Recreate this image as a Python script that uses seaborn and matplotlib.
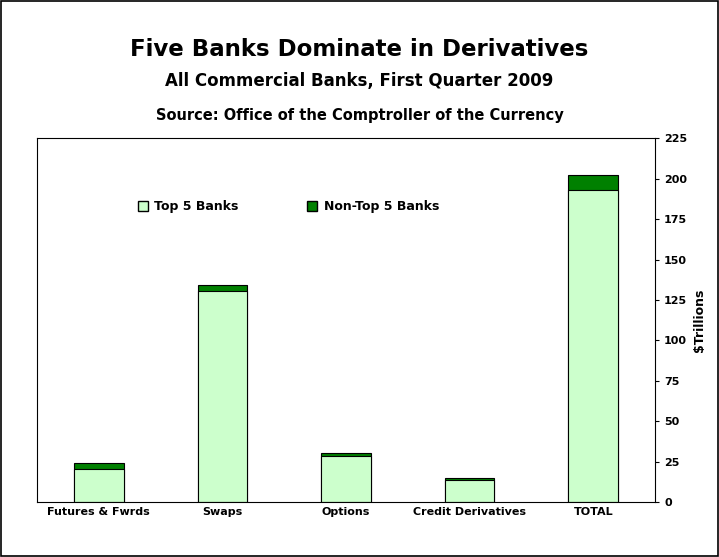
import matplotlib
matplotlib.use("Agg")
import matplotlib.pyplot as plt
import seaborn as sns
import pandas as pd
from matplotlib.patches import Patch

categories = ["Futures & Fwrds", "Swaps", "Options", "Credit Derivatives", "TOTAL"]
top5 = [20.4, 130.4, 28.4, 13.8, 193.0]
non_top5 = [3.6, 3.6, 1.8, 0.9, 9.0]

df = pd.DataFrame({"cat": categories, "top5": top5,
                   "total": [a + b for a, b in zip(top5, non_top5)]})

light, dark = "#CCFFCC", "#008000"

fig = plt.figure(figsize=(7.19, 5.57), dpi=100)
ax = fig.add_axes([0.0515, 0.0987, 0.8595, 0.653])

sns.barplot(data=df, x="cat", y="total", color=dark, width=0.4,
            edgecolor="black", linewidth=0.8, saturation=1, ax=ax)
sns.barplot(data=df, x="cat", y="top5", color=light, width=0.4,
            edgecolor="black", linewidth=0.8, saturation=1, ax=ax)

ax.set_ylim(0, 225)
ax.set_yticks(range(0, 226, 25))
ax.yaxis.tick_right()
ax.yaxis.set_label_position("right")
ax.set_ylabel("$Trillions", fontsize=9, fontweight="bold")
ax.set_xlabel("")
ax.tick_params(axis="both", labelsize=8, length=3)
for lbl in ax.get_xticklabels() + ax.get_yticklabels():
    lbl.set_fontweight("bold")
ax.tick_params(axis="x", length=0)
for s in ax.spines.values():
    s.set_color("black")
    s.set_linewidth(0.8)

ax.legend(handles=[Patch(facecolor=light, edgecolor="black", label="Top 5 Banks"),
                   Patch(facecolor=dark, edgecolor="black", label="Non-Top 5 Banks")],
          loc="upper left", bbox_to_anchor=(0.145, 0.86), ncol=2, frameon=False,
          prop={"size": 9, "weight": "bold"}, handlelength=0.8, handleheight=0.8,
          handletextpad=0.5, columnspacing=5.5)

fig.text(0.5, 0.9, "Five Banks Dominate in Derivatives", ha="center",
         fontsize=16.5, fontweight="bold")
fig.text(0.5, 0.845, "All Commercial Banks, First Quarter 2009", ha="center",
         fontsize=12, fontweight="bold")
fig.text(0.5, 0.785, "Source: Office of the Comptroller of the Currency", ha="center",
         fontsize=10.5, fontweight="bold")

fig.patches.append(plt.Rectangle((0.002, 0.002), 0.996, 0.996, transform=fig.transFigure,
                                 fill=False, edgecolor="black", linewidth=1.2))
fig.savefig("out.png", dpi=100)
